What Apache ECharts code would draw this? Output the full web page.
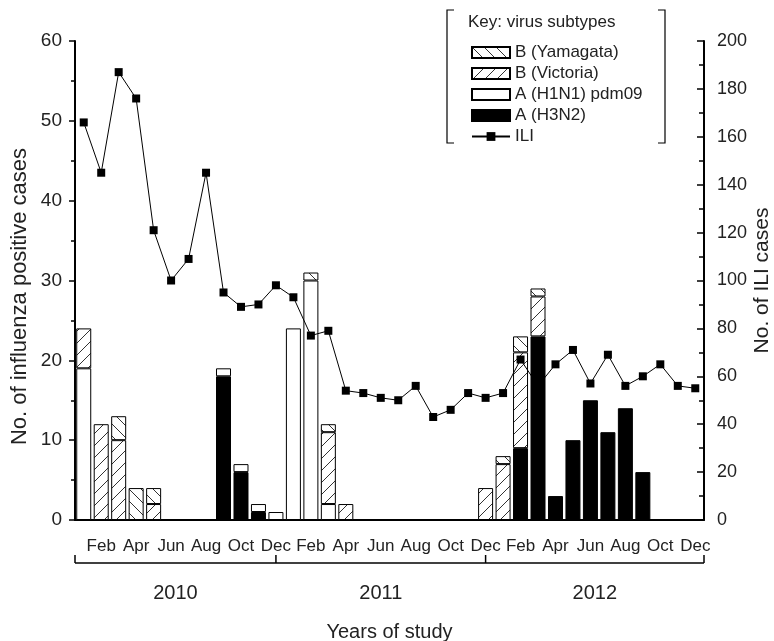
<!DOCTYPE html>
<html><head><meta charset="utf-8">
<script src="https://cdn.jsdelivr.net/npm/echarts@6/dist/echarts.min.js"></script>
<style>html,body{margin:0;padding:0;background:#fff}#c{width:774px;height:641px}</style>
</head><body><div id="c"></div>
<script>
// ---- data ----
const monthNames = ['Jan','Feb','Mar','Apr','May','Jun','Jul','Aug','Sep','Oct','Nov','Dec'];
const years = ['2010','2011','2012'];
const months = [].concat(monthNames, monthNames, monthNames);
//                 2010                                   2011                                  2012
const h3n2     = [0,0,0,0,0,0,0,0,18,6,1,0,   0,0,0,0,0,0,0,0,0,0,0,0,   0,9,23,3,10,15,11,14,6,0,0,0];
const h1n1     = [19,0,0,0,0,0,0,0,1,1,1,1,   24,30,2,0,0,0,0,0,0,0,0,0, 0,0,0,0,0,0,0,0,0,0,0,0];
const victoria = [5,12,10,0,2,0,0,0,0,0,0,0,  0,0,9,2,0,0,0,0,0,0,0,4,   7,12,5,0,0,0,0,0,0,0,0,0];
const yamagata = [0,0,3,4,2,0,0,0,0,0,0,0,    0,1,1,0,0,0,0,0,0,0,0,0,   1,2,1,0,0,0,0,0,0,0,0,0];
const ili      = [166,145,187,176,121,100,109,145,95,89,90,98,
                  93,77,79,54,53,51,50,56,43,46,53,51,
                  53,67,56,65,71,57,69,56,60,65,56,55];
const leftTicks = {min:0, max:60, interval:10};
const rightTicks = {min:0, max:200, interval:20};

// ---- styles ----
const FONT = '"Liberation Sans", Arial, sans-serif';
const TXT = '#222';
function hatch(dir){
  const c = document.createElement('canvas'); c.width = 12; c.height = 12;
  const g = c.getContext('2d');
  g.fillStyle = '#fff'; g.fillRect(0,0,12,12);
  g.strokeStyle = '#333'; g.lineWidth = 1; g.beginPath();
  if (dir > 0) { g.moveTo(0,12); g.lineTo(12,0); g.moveTo(-2,2); g.lineTo(2,-2); g.moveTo(10,14); g.lineTo(14,10); }
  else { g.moveTo(0,0); g.lineTo(12,12); g.moveTo(-2,10); g.lineTo(2,14); g.moveTo(10,-2); g.lineTo(14,2); }
  g.stroke();
  return c;
}
const patVic = {image: hatch(1), repeat: 'repeat'};
const patYam = {image: hatch(-1), repeat: 'repeat'};
const nz = a => a.map(v => v === 0 ? null : v);

function bar(name, data, color){
  return {name, type:'bar', stack:'flu', data: nz(data), barWidth:15, yAxisIndex:0,
    itemStyle:{color, borderColor:'#000', borderWidth:1}, emphasis:{disabled:true}, animation:false};
}

const chart = echarts.init(document.getElementById('c'), null, {renderer:'canvas'});
chart.setOption({
  animation:false,
  textStyle:{fontFamily:FONT, color:TXT},
  grid:{left:75, right:70, top:41, bottom:121, containLabel:false, outerBoundsMode:'none'},
  legend:{
    orient:'vertical', left:466, top:39, itemWidth:38, itemHeight:11, itemGap:4,
    textStyle:{fontSize:17, color:TXT, lineHeight:17, fontFamily:FONT},
    data:[{name:'B (Yamagata)', icon:'rect'}, {name:'B (Victoria)', icon:'rect'},
          {name:'A (H1N1) pdm09', icon:'rect'}, {name:'A (H3N2)', icon:'rect'}, {name:'ILI'}],
    selectedMode:false
  },
  xAxis:{
    type:'category', data:months, boundaryGap:true,
    axisLine:{lineStyle:{color:'#000', width:2}},
    axisTick:{alignWithLabel:true, interval:0, length:7, lineStyle:{color:'#000', width:1.5}},
    axisLabel:{interval:(i)=> i%2===1, margin:18, fontSize:17, color:TXT, fontFamily:FONT},
    name:'Years of study', nameLocation:'middle', nameGap:102, nameMoveOverlap:false,
    nameTextStyle:{fontSize:20, color:TXT, fontFamily:FONT}
  },
  yAxis:[
    {type:'value', position:'left', min:leftTicks.min, max:leftTicks.max, interval:leftTicks.interval,
     axisLine:{show:true, lineStyle:{color:'#000', width:2}},
     axisTick:{show:true, length:6, lineStyle:{color:'#000', width:1.5}},
     minorTick:{show:true, splitNumber:2, length:4, lineStyle:{color:'#000', width:1.5}},
     splitLine:{show:false},
     axisLabel:{fontSize:19, margin:13, color:TXT, fontFamily:FONT},
     name:'No. of influenza positive cases', nameLocation:'middle', nameGap:44, nameRotate:90, nameMoveOverlap:false,
     nameTextStyle:{fontSize:22, color:TXT, fontFamily:FONT, padding:[0,32,0,0]}},
    {type:'value', position:'right', min:rightTicks.min, max:rightTicks.max, interval:rightTicks.interval,
     axisLine:{show:true, lineStyle:{color:'#000', width:2}},
     axisTick:{show:true, inside:true, length:7, lineStyle:{color:'#000', width:1.5}},
     minorTick:{show:true, splitNumber:2, length:5, lineStyle:{color:'#000', width:1.5}},
     splitLine:{show:false},
     axisLabel:{fontSize:18, margin:13, color:TXT, fontFamily:FONT},
     name:'No. of ILI cases', nameLocation:'middle', nameGap:48, nameRotate:90, nameMoveOverlap:false,
     nameTextStyle:{fontSize:21, color:TXT, fontFamily:FONT}}
  ],
  series:[
    bar('A (H3N2)', h3n2, '#000'),
    bar('A (H1N1) pdm09', h1n1, '#fff'),
    bar('B (Victoria)', victoria, patVic),
    bar('B (Yamagata)', yamagata, patYam),
    {name:'ILI', type:'line', yAxisIndex:1, data:ili, symbol:'rect', symbolSize:8,
     lineStyle:{color:'#000', width:1}, itemStyle:{color:'#000'}, z:5,
     emphasis:{disabled:true}, animation:false}
  ]
});

// decorations: year brackets and legend key frame, positioned from the axis
function px(i){ return chart.convertToPixel({xAxisIndex:0}, i); }
const band = px(1) - px(0);
const xl = px(0) - band/2, xr = px(35) + band/2;
const bounds = [xl, px(11), px(23), xr];
const yb = 563;
const g = [];
g.push({type:'line', shape:{x1:xl, y1:yb, x2:xr, y2:yb}, style:{stroke:'#000', lineWidth:1.5}});
bounds.forEach((b)=> g.push({type:'line', shape:{x1:b, y1:yb, x2:b, y2:yb-8}, style:{stroke:'#000', lineWidth:1.5}}));
years.forEach((y, k)=> g.push({type:'text', x:(bounds[k]+bounds[k+1])/2, y:593,
  style:{text:y, fontSize:20, fill:TXT, font:'20px '+FONT, textAlign:'center', textVerticalAlign:'middle'}}));
// legend frame
const L = 447, R = 665, T = 10, B = 143;
g.push({type:'polyline', shape:{points:[[L+7,T],[L,T],[L,B],[L+7,B]]}, style:{stroke:'#000', lineWidth:1.2, fill:null}});
g.push({type:'polyline', shape:{points:[[R-7,T],[R,T],[R,B],[R-7,B]]}, style:{stroke:'#000', lineWidth:1.2, fill:null}});
g.push({type:'text', x:468, y:22, style:{text:'Key: virus subtypes', font:'17px '+FONT, fill:TXT, textVerticalAlign:'middle'}});
chart.setOption({graphic:g});
</script>
</body></html>
